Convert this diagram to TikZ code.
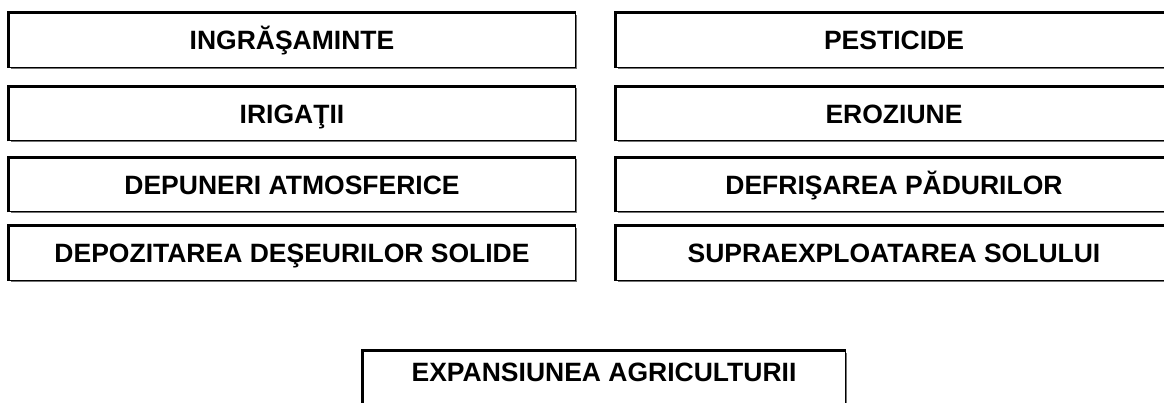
\documentclass[tikz,border=0pt]{standalone}
\usepackage{fontspec}
\setmainfont{Liberation Sans}
\usepackage{tikz}
\usetikzlibrary{shadows}

\tikzset{
  cause/.style={rectangle, draw=black, line width=1pt, fill=white,
    minimum height=54pt, inner sep=0pt, text height=19pt, text depth=0pt,
    font=\fontsize{26.5}{30}\selectfont\bfseries,
    drop shadow={shadow xshift=1.5pt, shadow yshift=-1.5pt, fill=black!55, opacity=1}},
  left cause/.style={cause, minimum width=566pt},
  right cause/.style={cause, minimum width=556pt},
  heavy edge/.style={line width=3pt}
}

\begin{document}
\begin{tikzpicture}[x=1pt,y=-1pt]
      \useasboundingbox (0,0) rectangle (1164,403);
      \node[left cause] (ingr) at (292,40.5) {INGRĂŞAMINTE};
      \node[right cause] (pest) at (894,40.5) {PESTICIDE};
      \node[left cause] (irig) at (292,114) {IRIGAŢII};
      \node[right cause] (eroz) at (894,114) {EROZIUNE};
      \node[left cause] (depun) at (292,185) {DEPUNERI ATMOSFERICE};
      \node[right cause] (defr) at (894,185) {DEFRIŞAREA PĂDURILOR};
      \node[left cause] (depoz) at (292,253.5) {DEPOZITAREA DEŞEURILOR SOLIDE};
      \node[right cause] (supra) at (894,253.5) {SUPRAEXPLOATAREA SOLULUI};
      \node[cause, minimum width=482pt, text depth=12pt] (expans) at (604,378) {EXPANSIUNEA AGRICULTURII};
      \foreach \n in {ingr,pest,irig,eroz,depun,defr,depoz,supra,expans}
        \draw[heavy edge] (\n.south west) -- (\n.north west) -- (\n.north east);
    \end{tikzpicture}
\end{document}
